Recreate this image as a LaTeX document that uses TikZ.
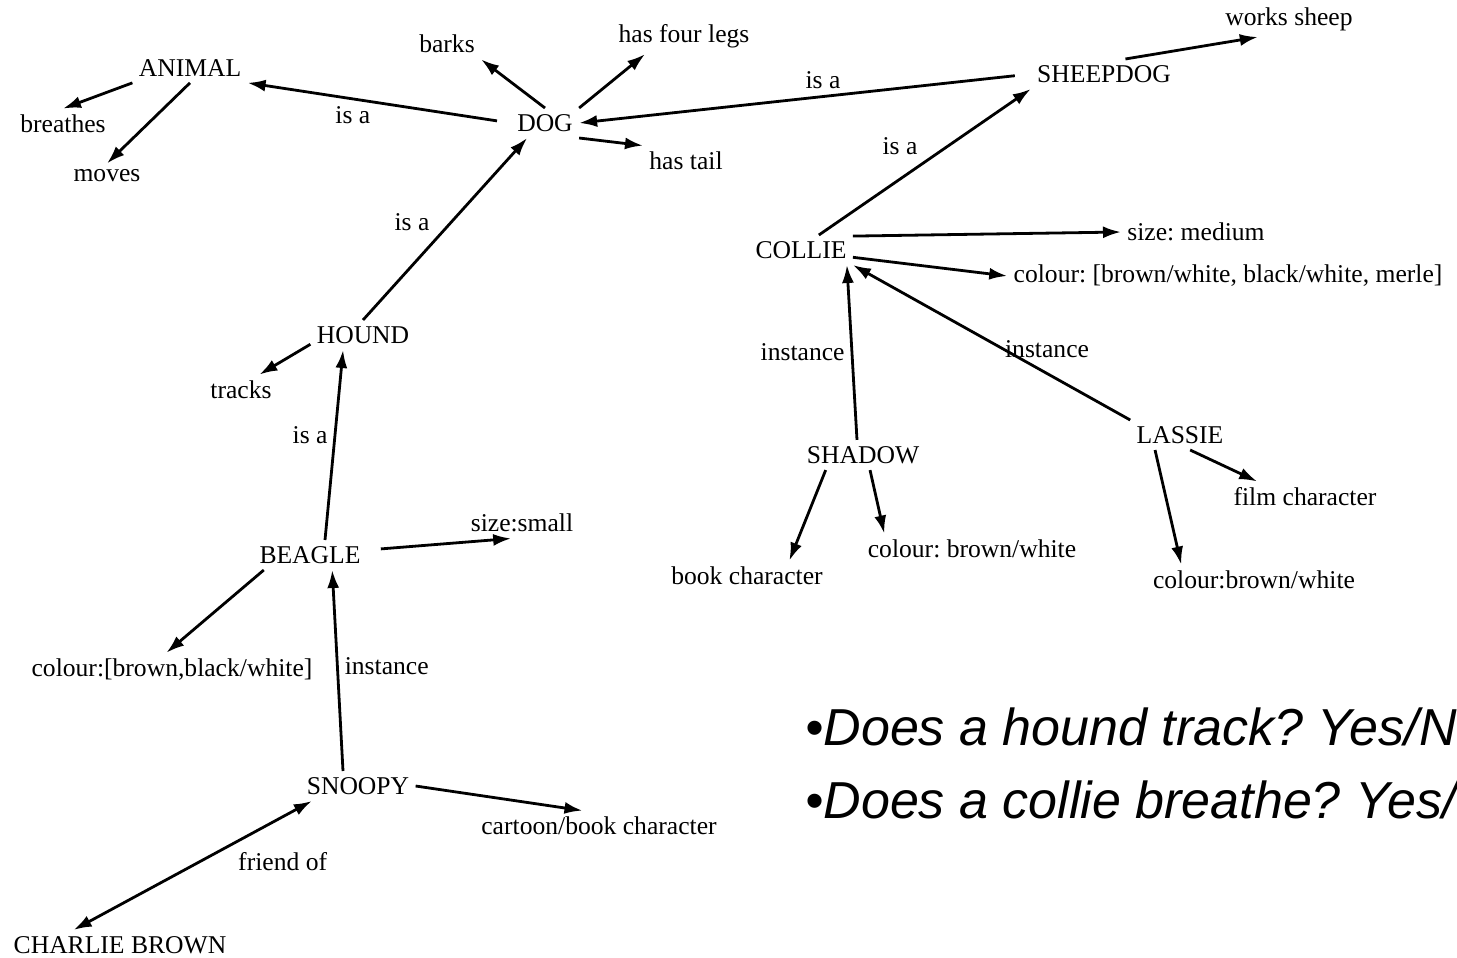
\documentclass[tikz,border=0pt]{standalone}
\usepackage{fontspec}
\setmainfont{Liberation Serif}
\newfontfamily\qfont{Liberation Sans}
\usetikzlibrary{arrows.meta}
\frenchspacing
\begin{document}
\begin{tikzpicture}[x=0.5pt,y=-0.5pt,
  every node/.style={font=\fontsize{12.8}{15}\selectfont,inner sep=3pt},
  link/.style={line width=1.4pt,-{Latex[length=9pt,width=6pt]}},
  both/.style={line width=1.4pt,{Latex[length=9pt,width=6pt]}-{Latex[length=9pt,width=6pt]}},
  question/.style={font=\qfont\itshape\fontsize{26}{31}\selectfont,anchor=base west,inner sep=0pt}]
\clip (0,0) rectangle (1457,958);
\node (animal) at (190,68) {ANIMAL};
\node (breathes) at (63,124) {breathes};
\node (moves) at (107,176) {moves};
\node (dog) at (545,123) {DOG};
\node (barks) at (447,44) {barks};
\node (legs) at (684,36) {has four legs};
\node (tail) at (686,161) {has tail};
\node (sheepdog) at (1104,74) {SHEEPDOG};
\node (works) at (1289,19) {works sheep};
\node (collie) at (801,250) {COLLIE};
\node (size) at (1196,232) {size: medium};
\node (ccol) at (1228,276) {colour: [brown/white, black/white, merle]};
\node (shadow) at (863,455) {SHADOW};
\node (lassie) at (1180,435) {LASSIE};
\node (book) at (747,576) {book character};
\node (scol) at (972,549) {colour: brown/white};
\node (film) at (1305,497) {film character};
\node (lcol) at (1254,580) {colour:brown/white};
\node (hound) at (363,335) {HOUND};
\node (tracks) at (241,390) {tracks};
\node (beagle) at (310,555) {BEAGLE};
\node (small) at (522,523) {size:small};
\node (bcol) at (172,670) {colour:[brown,black/white]};
\node (snoopy) at (358,786) {SNOOPY};
\node (cartoon) at (599,826) {cartoon/book character};
\node (charlie) at (120,945) {CHARLIE BROWN};
\node[question] (q1) at (805,745) {•Does a hound track? Yes/No};
\node[question] (q2) at (805,818) {•Does a collie breathe? Yes/No};

\draw[link] (animal.south west) -- (breathes.north);
\draw[link] (animal.south) -- (moves.north);
\draw[link,shorten <=7pt] (dog.west) -- (animal.south east) node[pos=0.6,below] {is a};
\draw[link] (dog.north) -- (barks.south east);
\draw[link] (dog.north east) -- (legs.205);
\draw[link] (dog.south east) -- (tail.north west);
\draw[link,shorten <=8pt] (sheepdog.west) -- (dog.east) node[pos=0.46,above] {is a};
\draw[link] (sheepdog.35) -- (works.210);
\draw[link] (collie.40) -- (sheepdog.south west) node[pos=0.5,above left] {is a};
\draw[link] (collie.15) -- (size.west);
\draw[link] (collie.-8) -- (ccol.west);
\draw[link] ([xshift=-3pt]shadow.north) -- ([xshift=-3pt]collie.south east) node[pos=0.5,left] {instance};
\draw[link] (lassie.north west) -- (collie.south east) node[pos=0.3,above=4pt] {instance};
\draw[link] (shadow.202) -- (book.20);
\draw[link] (shadow.-65) -- (scol.170);
\draw[link] (lassie.-56) -- (film.162);
\draw[link] (lassie.211) -- (lcol.168);
\draw[link] (hound.north) -- (dog.220) node[pos=0.45,above left] {is a};
\draw[link] (hound.190) -- (tracks.40);
\draw[link] (beagle.45) -- (hound.217) node[pos=0.55,left] {is a};
\draw[link,shorten <=7pt] (beagle.5) -- (small.235);
\draw[link] (beagle.198) -- (bcol.108);
\draw[link] (snoopy.135) -- (beagle.-34) node[pos=0.52,right] {instance};
\draw[link] (snoopy.east) -- (cartoon.137);
\draw[both] (snoopy.198) -- (charlie.162) node[pos=0.34,below right] {friend of};
\end{tikzpicture}
\end{document}
